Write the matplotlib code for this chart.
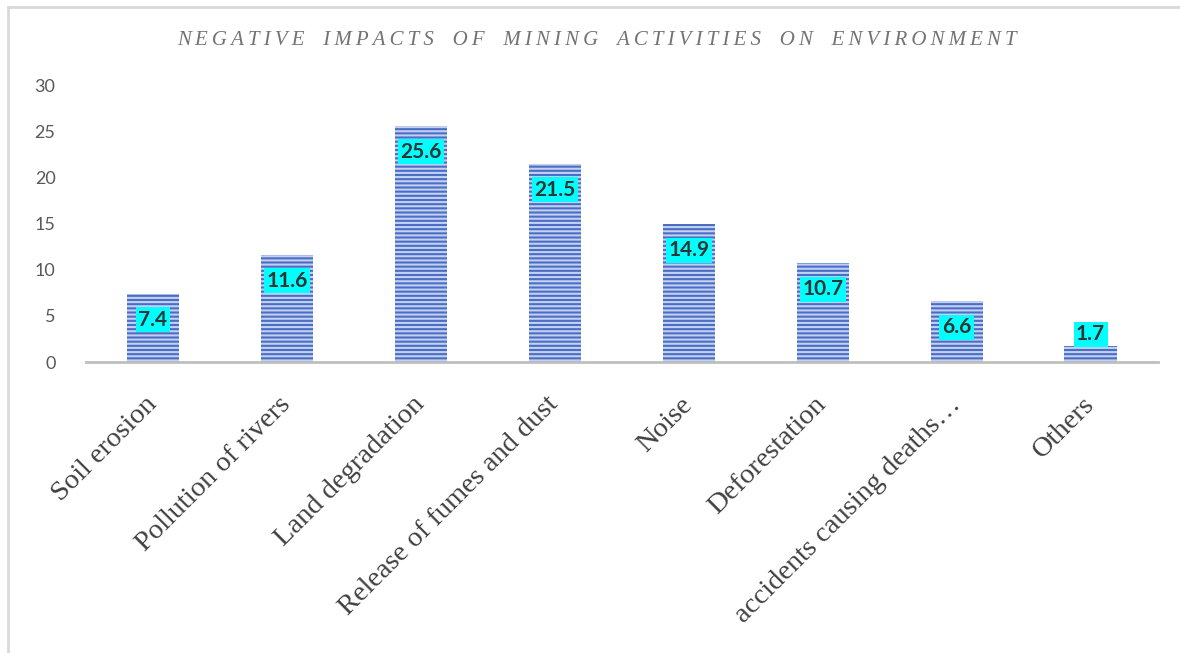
import matplotlib.pyplot as plt
from matplotlib.lines import Line2D

# Survey results: share of respondents naming each impact
impacts = ["Soil erosion", "Pollution of rivers", "Land degradation",
           "Release of fumes and dust", "Noise", "Deforestation",
           "accidents causing deaths…", "Others"]
percent = [7.4, 11.6, 25.6, 21.5, 14.9, 10.7, 6.6, 1.7]
y_ticks = [0, 5, 10, 15, 20, 25, 30]
title = "NEGATIVE IMPACTS OF MINING ACTIVITIES ON ENVIRONMENT"

plt.rcParams["hatch.color"] = "#c3d0f0"
plt.rcParams["hatch.linewidth"] = 1.5

fig = plt.figure(figsize=(11.8, 6.53), dpi=100)
ax = fig.add_axes([0.0729, 0.4456, 0.9081, 0.4242])

x = list(range(len(impacts)))
ax.bar(x, percent, width=0.39, color="#4a6ec6", edgecolor="#c3d0f0",
       linewidth=0, hatch="----", zorder=2)

# value labels in cyan boxes, inside the bar top (or just above short bars)
for xi, v in zip(x, percent):
    off = -26 if v > 4 else 12
    ax.annotate(f"{v}", (xi, v), xytext=(0, off * 0.72), textcoords="offset points",
                ha="center", va="center", fontsize=15, fontweight="bold",
                family="Lato", color="#333333", zorder=4,
                bbox=dict(boxstyle="square,pad=0.12", fc="#00ffff", ec="none"))

ax.set_xlim(-0.5, len(impacts) - 0.5)
ax.set_ylim(0, 30)
ax.set_yticks(y_ticks)
ax.set_yticklabels([str(t) for t in y_ticks], family="Lato", fontsize=13,
                   color="#595959")
ax.set_xticks(x)
ax.set_xticklabels(impacts, rotation=45, ha="right", va="center",
                   rotation_mode="anchor", family="Liberation Serif",
                   fontsize=20.5, color="#404040")
ax.tick_params(axis="y", length=0, pad=22)
ax.tick_params(axis="x", length=0, pad=28)

for side in ["left", "right", "top"]:
    ax.spines[side].set_visible(False)
ax.spines["bottom"].set_color("#bfbfbf")
ax.spines["bottom"].set_linewidth(2)
ax.spines["bottom"].set_zorder(3)

# letter-spaced italic title
spaced = "\u2009".join(title).replace("\u2009 \u2009", "\u2009  \u2009")
fig.text(0.506, 0.938, spaced, ha="center", va="center", family="Liberation Serif",
         style="italic", fontsize=15, color="#737373")

# chart frame (left and top edges)
fig.add_artist(Line2D([0.0068, 0.0068], [0, 0.99], transform=fig.transFigure,
                      color="#d9d9d9", lw=2))
fig.add_artist(Line2D([0.0068, 1], [0.989, 0.989], transform=fig.transFigure,
                      color="#d9d9d9", lw=2))

fig.savefig("out.png", dpi=100, facecolor="white")
